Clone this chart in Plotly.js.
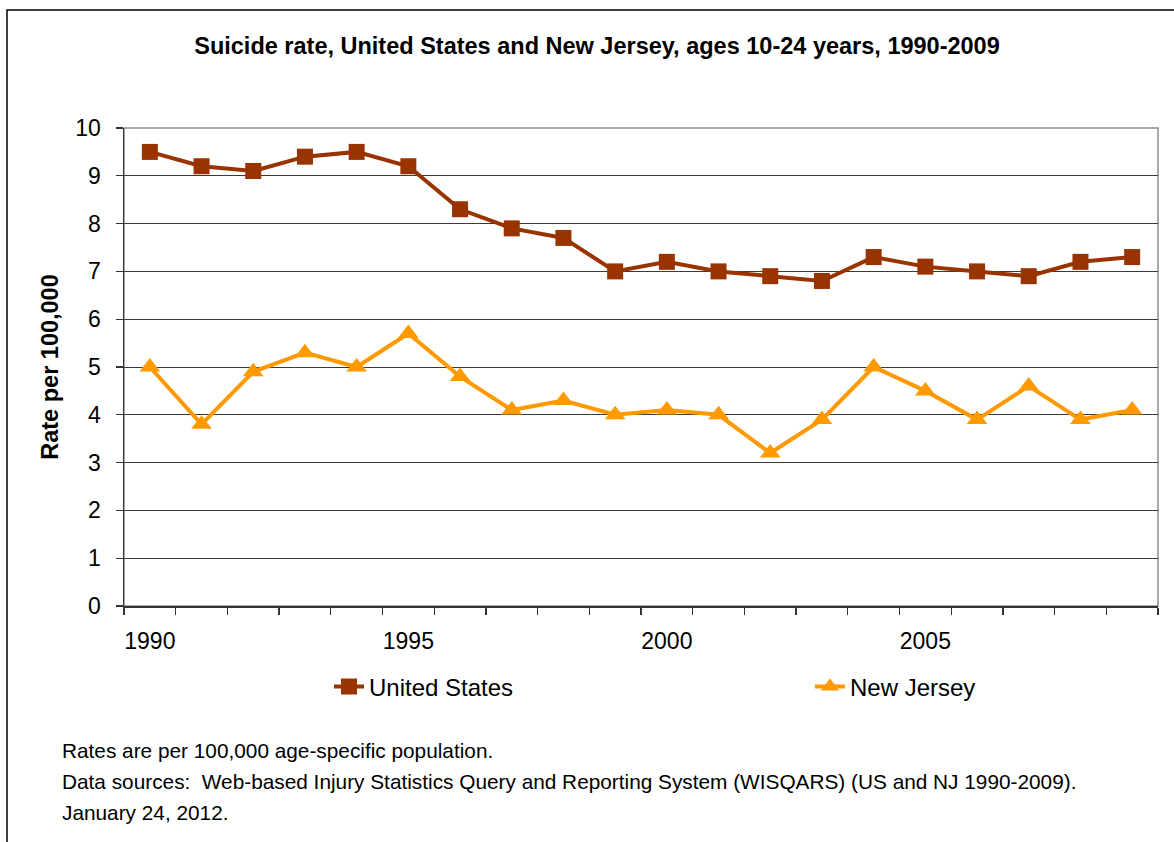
<!DOCTYPE html>
<html>
<head>
<meta charset="utf-8">
<script src="https://cdn.plot.ly/plotly-3.0.1.min.js"></script>
<style>
  html, body { margin: 0; padding: 0; background: #ffffff; }
  #chart { width: 1174px; height: 842px; }
</style>
</head>
<body>
<div id="chart"></div>
<script>
// ---- data ----
var years = [1990, 1991, 1992, 1993, 1994, 1995, 1996, 1997, 1998, 1999,
             2000, 2001, 2002, 2003, 2004, 2005, 2006, 2007, 2008, 2009];
var unitedStates = [9.5, 9.2, 9.1, 9.4, 9.5, 9.2, 8.3, 7.9, 7.7, 7.0,
                    7.2, 7.0, 6.9, 6.8, 7.3, 7.1, 7.0, 6.9, 7.2, 7.3];
var newJersey = [5.0, 3.8, 4.9, 5.3, 5.0, 5.7, 4.8, 4.1, 4.3, 4.0,
                 4.1, 4.0, 3.2, 3.9, 5.0, 4.5, 3.9, 4.6, 3.9, 4.1];
var labelYears = [1990, 1995, 2000, 2005];
var seriesNames = ['United States', 'New Jersey'];
var titleText = 'Suicide rate, United States and New Jersey, ages 10-24 years, 1990-2009';
var yTitleText = 'Rate per 100,000';
var footerLines = [
  'Rates are per 100,000 age-specific population.',
  'Data sources:  Web-based Injury Statistics Query and Reporting System (WISQARS) (US and NJ 1990-2009).',
  'January 24, 2012.'
];

// ---- layout geometry (pixels) ----
var W = 1174, H = 842;
var L = 124, R = 1158, T = 128, B = 606;
var pw = R - L, ph = B - T;
function px2x(p) { return (p - L) / pw; }
function px2y(p) { return (B - p) / ph; }

var FONT = 'Arial, "Liberation Sans", sans-serif';

var first = years[0], last = years[years.length - 1];

var traces = [
  {
    x: years, y: unitedStates, name: seriesNames[0],
    type: 'scatter', mode: 'lines+markers',
    line: { color: '#993300', width: 4 },
    marker: { symbol: 'square', size: 16, color: '#993300' },
    legend: 'legend'
  },
  {
    x: years, y: newJersey, name: seriesNames[1],
    type: 'scatter', mode: 'lines+markers',
    line: { color: '#FF9900', width: 4 },
    marker: { symbol: 'triangle-up', size: 18, color: '#FF9900' },
    legend: 'legend2'
  }
];

var annotations = footerLines.map(function (t, i) {
  return {
    text: t, xref: 'paper', yref: 'paper',
    x: px2x(60), y: px2y(750 + i * 31),
    xanchor: 'left', yanchor: 'middle', showarrow: false,
    font: { family: FONT, size: 20.8, color: '#000000' }
  };
});

function legendAt(px) {
  return {
    orientation: 'h',
    x: px2x(px), xanchor: 'left',
    y: px2y(687), yanchor: 'middle',
    font: { family: FONT, size: 24, color: '#000000' },
    bgcolor: 'rgba(0,0,0,0)', borderwidth: 0,
    itemclick: false, itemdoubleclick: false
  };
}

var layout = {
  width: W, height: H,
  paper_bgcolor: '#ffffff', plot_bgcolor: '#ffffff',
  margin: { l: L, r: W - R, t: T, b: H - B, pad: 0 },
  showlegend: true,
  title: {
    text: '<b>' + titleText + '</b>',
    font: { family: FONT, size: 23.5, color: '#000000' },
    x: 597 / W, xanchor: 'center',
    y: 1 - 46 / H, yanchor: 'middle'
  },
  xaxis: {
    type: 'linear',
    range: [first - 0.5, last + 0.5],
    tickmode: 'array', tickvals: labelYears, ticktext: labelYears.map(String),
    ticks: '', ticklabelstandoff: 14,
    tickfont: { family: FONT, size: 23, color: '#000000' },
    minor: {
      tickmode: 'linear', tick0: first - 0.5, dtick: 1,
      ticks: 'outside', ticklen: 7, tickwidth: 1.3, tickcolor: '#333333',
      showgrid: false
    },
    showgrid: false, zeroline: false,
    showline: true, linecolor: '#333333', linewidth: 1.5,
    fixedrange: true
  },
  yaxis: {
    range: [0, 10], tickmode: 'linear', tick0: 0, dtick: 1,
    ticks: 'outside', ticklen: 7, tickwidth: 1.3, tickcolor: '#333333',
    ticklabelstandoff: 10,
    tickfont: { family: FONT, size: 23, color: '#000000' },
    showgrid: true, gridcolor: '#3a3a3a', gridwidth: 1,
    zeroline: false,
    showline: true, linecolor: '#333333', linewidth: 1.5,
    title: {
      text: '<b>' + yTitleText + '</b>',
      font: { family: FONT, size: 23.5, color: '#000000' },
      standoff: 10
    },
    fixedrange: true
  },
  legend: legendAt(329),
  legend2: legendAt(810),
  shapes: [
    { type: 'rect', xref: 'paper', yref: 'paper',
      x0: px2x(7), x1: px2x(1190), y0: px2y(870), y1: px2y(10),
      line: { color: '#000000', width: 1.5 }, fillcolor: 'rgba(0,0,0,0)', layer: 'below' },
    { type: 'rect', xref: 'paper', yref: 'paper',
      x0: 0, x1: 1, y0: 0, y1: 1,
      line: { color: '#8c8c8c', width: 1.5 }, fillcolor: 'rgba(0,0,0,0)', layer: 'below' }
  ],
  annotations: annotations
};

Plotly.newPlot('chart', traces, layout, { displayModeBar: false, staticPlot: true });
</script>
</body>
</html>
